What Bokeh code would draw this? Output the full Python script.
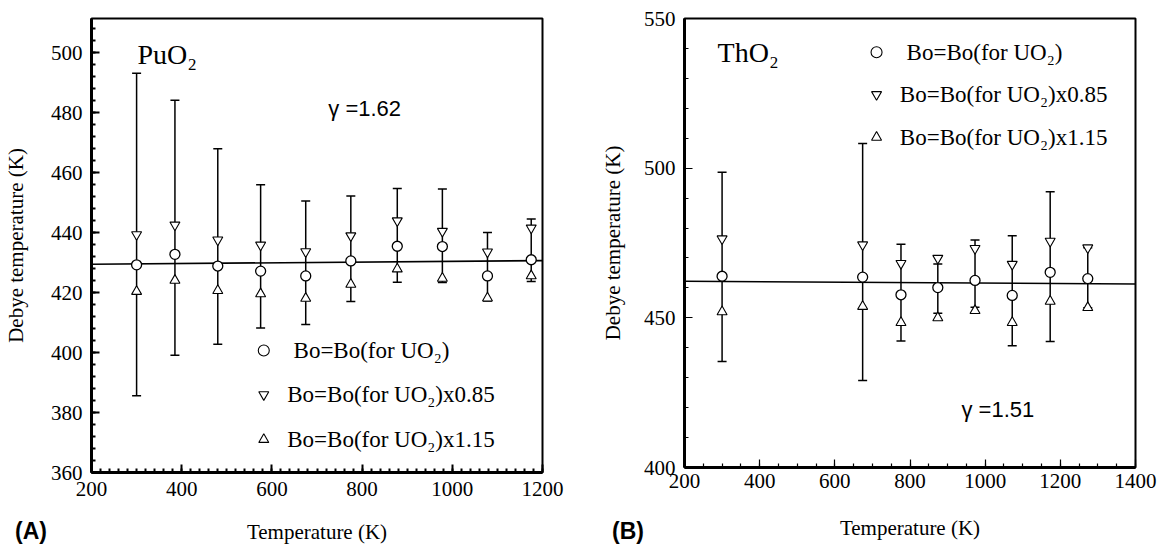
from bokeh.plotting import figure
from bokeh.layouts import row
from bokeh.models import Range1d, FixedTicker, Div
from bokeh.core.properties import value
from bokeh.embed import file_html
from bokeh.resources import INLINE

# ---------------- data: (A) PuO2 ----------------
pu_T = [300, 385, 480, 575, 675, 775, 878, 978, 1078, 1175]
pu_circle = [429.3, 432.8, 428.9, 427.2, 425.6, 430.6, 435.5, 435.4, 425.6, 431.0]
pu_down = [439.4, 442.6, 437.6, 435.9, 433.7, 439.0, 444.0, 440.5, 433.6, 441.6]
pu_up = [420.4, 424.1, 420.7, 419.6, 418.1, 422.8, 427.9, 424.8, 418.2, 425.6]
pu_err_hi = [493.2, 484.2, 468.0, 456.0, 450.6, 452.3, 454.8, 454.6, 440.1, 444.6]
pu_err_lo = [385.6, 399.1, 402.8, 408.2, 409.4, 417.1, 423.5, 423.4, 417.2, 423.7]
pu_fit_T = [200, 1200]
pu_fit = [429.5, 430.7]
pu_xticks = [200, 400, 600, 800, 1000, 1200]
pu_yticks = [360, 380, 400, 420, 440, 460, 480, 500]

# ---------------- data: (B) ThO2 ----------------
th_T = [300, 674, 776, 874, 973, 1072, 1173, 1273]
th_circle = [463.9, 463.6, 457.7, 460.1, 462.5, 457.5, 465.2, 463.1]
th_down = [476.4, 474.4, 468.2, 469.9, 473.2, 467.9, 475.6, 473.4]
th_up = [452.0, 453.8, 448.4, 450.0, 452.4, 448.4, 455.5, 453.4]
th_err_hi = [498.6, 508.2, 474.6, 468.0, 476.0, 477.4, 492.1, 473.4]
th_err_lo = [435.4, 429.1, 442.3, 451.5, 453.5, 440.7, 442.1, 453.4]
th_fit_T = [200, 1400]
th_fit = [462.2, 461.3]
th_xticks = [200, 400, 600, 800, 1000, 1200, 1400]
th_yticks = [400, 450, 500, 550]

legend_labels = ["Bo=Bo(for UO\u2082)", "Bo=Bo(for UO\u2082)x0.85", "Bo=Bo(for UO\u2082)x1.15"]
legend_markers = ["circle", "inverted_triangle", "triangle"]

SERIF = "Liberation Serif"


def panel(fw, fh, borders, xr, yr, xticks, xminor, yticks, yminor,
          T, circ, down, up, hi, lo, fitT, fit, tickw, xstand, xlstand, ylstand):
    p = figure(frame_width=fw, frame_height=fh, output_backend="svg", toolbar_location=None,
               x_range=Range1d(*xr), y_range=Range1d(*yr),
               min_border_left=borders[0], min_border_right=borders[1],
               min_border_top=borders[2], min_border_bottom=borders[3])
    p.xgrid.visible = False
    p.ygrid.visible = False
    p.outline_line_color = "black"
    p.outline_line_width = 2
    p.background_fill_color = "white"
    p.border_fill_color = "white"
    p.xaxis.ticker = FixedTicker(ticks=xticks, minor_ticks=xminor)
    p.yaxis.ticker = FixedTicker(ticks=yticks, minor_ticks=yminor)
    for ax in (p.xaxis[0], p.yaxis[0]):
        ax.axis_line_width = 3
        ax.axis_line_color = "black"
        ax.major_tick_in = 8
        ax.major_tick_out = 0
        ax.minor_tick_in = 4
        ax.minor_tick_out = 0
        ax.major_tick_line_width = tickw
        ax.minor_tick_line_width = tickw
        ax.major_tick_line_color = "black"
        ax.minor_tick_line_color = "black"
        ax.major_label_text_font = SERIF
        ax.major_label_text_font_size = "21px"
        ax.major_label_text_color = "black"
        ax.axis_label_text_font = SERIF
        ax.axis_label_text_font_size = "21px"
        ax.axis_label_text_font_style = "normal"
        ax.axis_label_text_color = "black"
    p.xaxis.axis_label = "Temperature (K)"
    p.yaxis.axis_label = "Debye temperature (K)"
    p.xaxis.major_label_standoff = xstand
    p.xaxis.axis_label_standoff = xlstand
    p.yaxis.major_label_standoff = 9
    p.yaxis.axis_label_standoff = ylstand

    # fit line
    p.line(fitT, fit, line_color="black", line_width=1.6)
    # error bars
    p.segment(x0=T, y0=lo, x1=T, y1=hi, line_color="black", line_width=1.5)
    p.scatter(T, hi, marker="dash", size=9, line_color="black", line_width=1.5)
    p.scatter(T, lo, marker="dash", size=9, line_color="black", line_width=1.5)
    # markers
    p.scatter(T, down, marker="inverted_triangle", size=10, fill_color="white",
              line_color="black", line_width=1.1)
    p.scatter(T, up, marker="triangle", size=10, fill_color="white",
              line_color="black", line_width=1.1)
    p.scatter(T, circ, marker="circle", size=10, fill_color="white",
              line_color="black", line_width=1.3)
    return p


pA = panel(451, 454, (91, 48, 18, 72), (200, 1200), (360, 511.5),
           pu_xticks, list(range(200, 1201, 20)), pu_yticks, list(range(360, 512, 4)),
           pu_T, pu_circle, pu_down, pu_up, pu_err_hi, pu_err_lo, pu_fit_T, pu_fit,
           2, 9, 21, 20)

pB = panel(451, 449, (94, 24, 18, 77), (200, 1400), (400, 550),
           th_xticks, list(range(200, 1401, 50)), th_yticks, list(range(400, 551, 10)),
           th_T, th_circle, th_down, th_up, th_err_hi, th_err_lo, th_fit_T, th_fit,
           1.2, 6, 25, 16)

# ---- annotations panel A ----
pA.text(x=[302], y=[499.5], text=["PuO\u2082"], text_font=value(SERIF), text_font_size="28px",
        text_baseline="middle", text_align="left", text_color="black")
pA.text(x=[725], y=[481.4], text=["\u03b3 =1.62"], text_font=value("Liberation Sans"),
        text_font_size="22px", text_baseline="middle", text_align="left", text_color="black")
legA_y = [400.7, 386.0, 371.0]
legA_tx = [648, 634, 634]
for m, yy, tx, lab in zip(legend_markers, legA_y, legA_tx, legend_labels):
    pA.scatter([582], [yy], marker=m, size=11 if m == "circle" else 10, fill_color="white",
               line_color="black", line_width=1.1)
    pA.text(x=[tx], y=[yy], text=[lab], text_font=value(SERIF), text_font_size="23px",
            text_baseline="middle", text_align="left", text_color="black")

# ---- annotations panel B ----
pB.text(x=[288], y=[538.6], text=["ThO\u2082"], text_font=value(SERIF), text_font_size="28px",
        text_baseline="middle", text_align="left", text_color="black")
pB.text(x=[937], y=[419.4], text=["\u03b3 =1.51"], text_font=value("Liberation Sans"),
        text_font_size="22px", text_baseline="middle", text_align="left", text_color="black")
legB_y = [538.7, 524.6, 510.3]
legB_tx = [791, 773, 773]
for m, yy, tx, lab in zip(legend_markers, legB_y, legB_tx, legend_labels):
    pB.scatter([711], [yy], marker=m, size=11 if m == "circle" else 10, fill_color="white",
               line_color="black", line_width=1.1)
    pB.text(x=[tx], y=[yy], text=[lab], text_font=value(SERIF), text_font_size="23px",
            text_baseline="middle", text_align="left", text_color="black")


def panel_tag(txt, left):
    return Div(text=txt, width=45, height=28,
               styles={"position": "absolute", "left": f"{left}px", "top": "515px",
                       "font-family": "'Liberation Sans', Arial, sans-serif",
                       "font-size": "23px", "font-weight": "bold", "color": "black",
                       "line-height": "1", "z-index": "10"})


layout = row(pA, pB, panel_tag("(A)", 10), panel_tag("(B)", 607))
open("out.html", "w").write(file_html(layout, INLINE))
